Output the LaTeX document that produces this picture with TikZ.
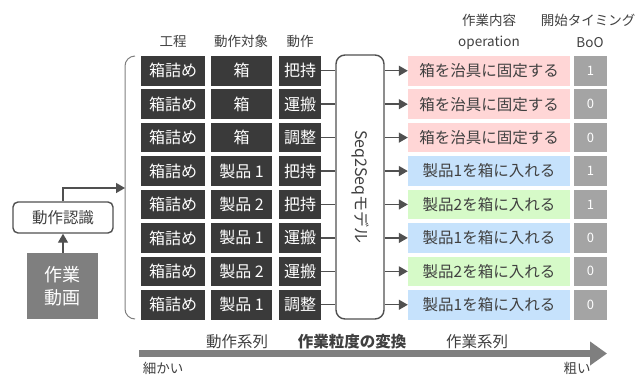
\documentclass[tikz,border=0pt]{standalone}
\usepackage{fontspec}
\setmainfont{Noto Sans CJK JP}
\usetikzlibrary{arrows.meta}
\definecolor{darkcell}{HTML}{3A3A3A}
\definecolor{pinkop}{HTML}{FFD6D6}
\definecolor{blueop}{HTML}{C6E2FC}
\definecolor{greenop}{HTML}{D6FAC8}
\definecolor{boogray}{HTML}{A4A4A4}
\definecolor{midgray}{HTML}{7F7F7F}
\definecolor{txtgray}{HTML}{404040}
\definecolor{linegray}{HTML}{505050}
\tikzset{
  cell/.style={fill=darkcell, text=white, minimum height=29.5pt, inner sep=0pt, font=\fontsize{16}{19}\selectfont},
  opcell/.style={minimum width=162pt, minimum height=29.5pt, inner sep=0pt, text=txtgray, font=\fontsize{15.5}{18}\selectfont},
  boocell/.style={fill=boogray, text=white, minimum width=33pt, minimum height=29.5pt, inner sep=0pt, font=\fontsize{13}{16}\selectfont},
  hdr/.style={text=txtgray, inner sep=0pt, font=\fontsize{13.5}{16}\selectfont},
  lbl/.style={text=txtgray, inner sep=0pt, font=\fontsize{15.5}{18}\selectfont},
  conn/.style={draw=linegray, line width=1.4pt},
  arr/.style={draw=linegray, line width=1.4pt, -{Triangle[length=9pt,width=10pt]}},
}
\begin{document}
\begin{tikzpicture}[x=1pt,y=-1pt]
\useasboundingbox (0,0) rectangle (641,376);
% headers
\node[hdr] (h1) at (173,41) {工程};
\node[hdr] (h2) at (241,41) {動作対象};
\node[hdr] (h3) at (300,41) {動作};
\node[hdr] (h4) at (489,20) {作業内容};
\node[hdr] (h5) at (489,43) {operation};
\node[hdr] (h6) at (588,20) {開始タイミング};
\node[hdr] (h7) at (590,43) {BoO};
% seq2seq box
\node[draw=linegray, line width=1.4pt, rounded corners=9pt, minimum width=48pt, minimum height=264pt, inner sep=0pt] (seq) at (360,187) {};
\node[rotate=-90, text=txtgray, font=\fontsize{16}{19}\selectfont, inner sep=0pt] (seqtxt) at (seq.center) {Seq2Seqモデル};
% rows
\foreach \i/\obj/\act/\op/\col/\b in {
  1/箱/把持/箱を治具に固定する/pinkop/1,
  2/箱/運搬/箱を治具に固定する/pinkop/0,
  3/箱/調整/箱を治具に固定する/pinkop/0,
  4/製品 1/把持/製品1を箱に入れる/blueop/1,
  5/製品 2/把持/製品2を箱に入れる/greenop/1,
  6/製品 1/運搬/製品1を箱に入れる/blueop/0,
  7/製品 2/運搬/製品2を箱に入れる/greenop/0,
  8/製品 1/調整/製品1を箱に入れる/blueop/0}{
  \pgfmathsetmacro{\yy}{70.75+(\i-1)*33.43}
  \node[cell, minimum width=64pt] (p\i) at (173,\yy) {箱詰め};
  \node[cell, minimum width=61pt] (o\i) at (241.5,\yy) {\obj};
  \node[cell, minimum width=42pt] (a\i) at (300,\yy) {\act};
  \node[opcell, fill=\col] (op\i) at (489,\yy) {\op};
  \node[boocell] (b\i) at (590.5,\yy) {\b};
  \draw[conn] (a\i.east) -- (a\i.east -| seq.west);
  \draw[arr] (seq.east |- op\i.west) -- (op\i.west);
}
% bracket
\coordinate (brt) at (135,56);
\coordinate (brb) at (135,319);
\coordinate (brin) at (125,188);
\draw[draw=midgray, line width=1pt, rounded corners=10pt] (brt) -- (125,56) -- (125,319) -- (brb);
% left side
\node[draw=linegray, line width=1.4pt, rounded corners=5pt, minimum width=100pt, minimum height=31pt, inner sep=0pt, text=txtgray, font=\fontsize{15.5}{18}\selectfont] (rec) at (63,217.5) {動作認識};
\node[fill=midgray, text=white, minimum width=71pt, minimum height=66pt, inner sep=0pt, align=center, font=\fontsize{18}{23}\selectfont] (vid) at (62.5,286) {作業\\動画};
\draw[arr] (vid.north -| rec.south) -- (rec.south);
\draw[arr] (rec.north) |- (brin);
% bottom labels
\node[lbl] (l1) at (237,342) {動作系列};
\node[lbl, font=\fontsize{15.5}{18}\selectfont\bfseries] (l2) at (352,342) {作業粒度の変換};
\node[lbl] (l3) at (477,342) {作業系列};
\coordinate (bigs) at (139,353.5);
\coordinate (bige) at (607,353.5);
\draw[draw=midgray, line width=6.5pt, -{Triangle[length=17pt,width=23pt]}] (bigs) -- (bige);
\node[hdr] (fine) at (163,368) {細かい};
\node[hdr] (coarse) at (577,368) {粗い};
\end{tikzpicture}
\end{document}
